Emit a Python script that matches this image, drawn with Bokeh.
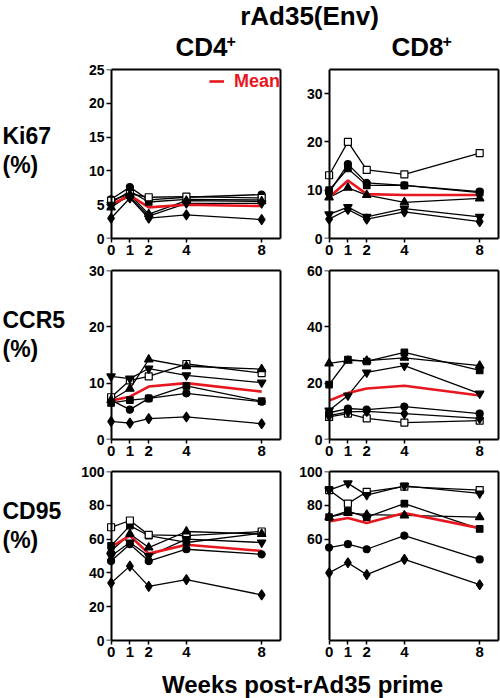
from bokeh.plotting import figure
from bokeh.layouts import row, column
from bokeh.models import Range1d, LinearAxis, FixedTicker, Legend, LegendItem
from bokeh.embed import file_html
from bokeh.resources import INLINE
from bokeh.core.properties import value

# ---------------- data ----------------
weeks = [0, 1, 2, 4, 8]
week_ticks = [0, 1, 2, 4, 8]

ki67_cd4 = {
    "circle": [5.8, 7.6, 5.7, 6.1, 6.5],
    "square": [5.3, 7.0, 5.4, 5.8, 5.7],
    "open_square": [5.6, 6.6, 6.1, 6.2, 6.0],
    "triangle": [4.6, 6.5, 3.6, 5.6, 5.5],
    "inverted_triangle": [5.0, 6.2, 3.3, 5.2, 5.2],
    "diamond": [3.0, 6.0, 3.0, 3.5, 2.8],
}
ki67_cd4_mean = [5.0, 6.4, 4.6, 5.0, 4.8]

ki67_cd8 = {
    "circle": [9.5, 15.4, 11.5, 11.0, 9.7],
    "square": [10.0, 14.5, 11.0, 11.0, 9.5],
    "open_square": [13.1, 20.0, 14.2, 13.3, 17.7],
    "triangle": [8.5, 10.5, 9.0, 7.5, 8.3],
    "inverted_triangle": [5.0, 6.5, 4.5, 6.2, 4.5],
    "diamond": [4.0, 6.0, 4.0, 5.5, 3.5],
}
ki67_cd8_mean = [8.5, 12.0, 9.2, 9.0, 9.0]

ccr5_cd4 = {
    "circle": [7.0, 5.3, 7.3, 8.2, 6.7],
    "square": [6.5, 7.0, 7.3, 9.5, 6.8],
    "open_square": [7.5, 10.5, 11.2, 13.4, 11.8],
    "triangle": [7.0, 9.0, 14.2, 13.0, 12.5],
    "inverted_triangle": [11.2, 10.8, 12.6, 11.4, 10.1],
    "diamond": [3.2, 2.9, 3.7, 4.0, 2.8],
}
ccr5_cd4_mean = [6.9, 7.6, 9.4, 10.0, 8.5]

ccr5_cd8 = {
    "circle": [9.5, 11.0, 10.6, 11.7, 9.2],
    "square": [19.5, 28.4, 27.7, 30.9, 24.5],
    "open_square": [8.0, 9.2, 7.5, 6.0, 6.7],
    "triangle": [27.0, 28.0, 28.0, 29.0, 26.2],
    "inverted_triangle": [10.3, 15.6, 23.8, 26.2, 16.3],
    "diamond": [8.5, 9.8, 10.0, 9.2, 7.5],
}
ccr5_cd8_mean = [13.8, 16.5, 18.1, 19.1, 15.6]

cd95_cd4 = {
    "circle": [47, 57, 47, 54, 51],
    "square": [56, 68, 62, 58, 63.5],
    "open_square": [67, 71, 62.5, 62, 64.5],
    "triangle": [53, 63, 55, 64.5, 63],
    "inverted_triangle": [50, 58, 50, 60, 58],
    "diamond": [34, 44, 32, 36, 27],
}
cd95_cd4_mean = [55.4, 62, 51.4, 56.7, 53]

cd95_cd8 = {
    "circle": [55, 57, 54, 62, 48],
    "square": [73, 76.5, 73, 81, 66],
    "open_square": [89, 81, 88, 91, 89],
    "triangle": [73, 75.5, 74.5, 74, 73],
    "inverted_triangle": [89, 93, 86, 91.5, 87],
    "diamond": [40, 46, 39, 48, 33],
}
cd95_cd8_mean = [70.5, 72.5, 69.5, 75.5, 66.5]

row_names = ["Ki67", "CCR5", "CD95"]
column_names = ["CD4", "CD8"]
main_title = "rAd35(Env)"
x_title = "Weeks post-rAd35 prime"
mean_label = "Mean"

# ---------------- style ----------------
FONT = "Liberation Sans"
BLACK = "#000000"
RED = "#e8161e"
FRAME_W, FRAME_H = 176, 169
BORDER_TOP, BORDER_BOTTOM = 9, 23
XR = (-0.35, 9.0)

MARKER_STYLE = {
    "circle": dict(marker="circle", size=7, fill_color=BLACK),
    "square": dict(marker="square", size=6.5, fill_color=BLACK),
    "open_square": dict(marker="square", size=7, fill_color="white"),
    "triangle": dict(marker="triangle", size=8.5, fill_color=BLACK),
    "inverted_triangle": dict(marker="inverted_triangle", size=8.5, fill_color=BLACK),
    "diamond": dict(marker="diamond", size=10, fill_color=BLACK),
}


def bare_axis(ax):
    ax.ticker = FixedTicker(ticks=[])
    ax.axis_line_width = 2
    ax.axis_line_color = BLACK
    ax.major_tick_out = 0
    ax.major_tick_in = 0
    ax.minor_tick_out = 0
    ax.minor_tick_in = 0
    ax.major_label_standoff = 0
    ax.major_label_text_alpha = 0


def panel(data, mean, ymax, yticks, border_left, border_right, legend=False):
    p = figure(frame_width=FRAME_W, frame_height=FRAME_H,
               x_range=Range1d(*XR), y_range=Range1d(0, ymax),
               min_border_left=border_left, min_border_right=border_right,
               min_border_top=BORDER_TOP, min_border_bottom=BORDER_BOTTOM,
               toolbar_location=None, output_backend="svg")
    p.grid.visible = False
    p.outline_line_color = None
    p.background_fill_color = "white"

    # x axis
    xa = p.xaxis[0]
    xa.ticker = FixedTicker(ticks=week_ticks)
    xa.bounds = (0, XR[1])
    xa.axis_line_width = 2
    xa.axis_line_color = BLACK
    xa.major_tick_line_width = 1.5
    xa.major_tick_line_color = BLACK
    xa.major_tick_out = 4
    xa.major_tick_in = 0
    xa.minor_tick_line_color = None
    xa.major_label_text_font = FONT
    xa.major_label_text_font_style = "bold"
    xa.major_label_text_font_size = "15px"
    xa.major_label_text_color = BLACK
    xa.major_label_standoff = 2

    # y tick labels (at frame edge)
    ya = p.yaxis[0]
    ya.ticker = FixedTicker(ticks=yticks)
    ya.axis_line_color = None
    ya.major_tick_line_color = None
    ya.minor_tick_line_color = None
    ya.major_tick_out = 0
    ya.major_tick_in = 0
    ya.major_label_standoff = 0
    ya.major_label_text_font = FONT
    ya.major_label_text_font_style = "bold"
    ya.major_label_text_font_size = "14px"
    ya.major_label_text_color = BLACK

    # y axis line and ticks at week 0
    yl = LinearAxis(ticker=FixedTicker(ticks=yticks), fixed_location=0)
    yl.axis_line_width = 2
    yl.axis_line_color = BLACK
    yl.major_tick_line_width = 1.5
    yl.major_tick_line_color = BLACK
    yl.major_tick_out = 5
    yl.major_tick_in = 0
    yl.minor_tick_line_color = None
    yl.major_label_standoff = 0
    yl.major_label_text_font_size = "1px"
    yl.major_label_text_alpha = 0
    p.add_layout(yl, "left")

    top = LinearAxis(bounds=(0, XR[1]))
    bare_axis(top)
    p.add_layout(top, "above")
    right = LinearAxis()
    bare_axis(right)
    p.add_layout(right, "right")

    for key, ys in data.items():
        p.line(weeks, ys, line_color=BLACK, line_width=1.3)
    mean_r = p.line(weeks, mean, line_color=RED, line_width=2.6)
    for key, ys in data.items():
        st = MARKER_STYLE[key]
        p.scatter(weeks, ys, marker=st["marker"], size=st["size"],
                  fill_color=st["fill_color"], line_color=BLACK, line_width=1.2)

    if legend:
        lg = Legend(items=[LegendItem(label=mean_label, renderers=[mean_r])],
                    location="top_right", border_line_color=None,
                    background_fill_alpha=0, margin=0, padding=4,
                    glyph_width=15, glyph_height=24, label_standoff=10,
                    label_text_font=FONT, label_text_font_style="bold",
                    label_text_font_size="18px", label_text_color=RED)
        p.add_layout(lg)
    return p


def text_canvas(w, h):
    p = figure(width=w, height=h, x_range=Range1d(0, w), y_range=Range1d(0, h),
               x_axis_type=None, y_axis_type=None, min_border=0,
               toolbar_location=None, output_backend="svg")
    p.grid.visible = False
    p.outline_line_color = None
    return p


ROW_H = BORDER_TOP + FRAME_H + BORDER_BOTTOM
HEADER_H = 69 - BORDER_TOP
FOOTER_H = 698 - HEADER_H - 3 * ROW_H

# header
header = text_canvas(500, HEADER_H)
header.text(x=[309], y=[HEADER_H - 15], text=[main_title], text_font=value(FONT),
            text_font_style="bold", text_font_size="26px",
            text_align="center", text_baseline="middle", text_color=BLACK)
header.text(x=[175, 391], y=[14, 14], text=column_names, text_font=value(FONT),
            text_font_style="bold", text_font_size="26px",
            text_align="left", text_baseline="middle", text_color=BLACK)
header.text(x=[226, 442], y=[20, 20], text=["+", "+"], text_font=value(FONT),
            text_font_style="bold", text_font_size="16px",
            text_align="left", text_baseline="middle", text_color=BLACK)

# offsets (below each frame top) of the row label and of "(%)"
label_offsets = [(70, 104), (50, 84), (38, 72)]


def label_canvas(name, offsets):
    p = text_canvas(66, ROW_H)
    frame_top = ROW_H - BORDER_TOP
    p.text(x=[2], y=[frame_top - offsets[0]], text=[name], text_font=value(FONT),
           text_font_style="bold", text_font_size="23px",
           text_align="left", text_baseline="middle", text_color=BLACK)
    p.text(x=[2], y=[frame_top - offsets[1]], text=["(%)"], text_font=value(FONT),
           text_font_style="bold", text_font_size="23px",
           text_align="left", text_baseline="middle", text_color=BLACK)
    return p


r1 = row(label_canvas(row_names[0], label_offsets[0]),
         panel(ki67_cd4, ki67_cd4_mean, 25, [0, 5, 10, 15, 20, 25], 38, 2, legend=True),
         panel(ki67_cd8, ki67_cd8_mean, 35, [0, 10, 20, 30], 40, 2), spacing=0)
r2 = row(label_canvas(row_names[1], label_offsets[1]),
         panel(ccr5_cd4, ccr5_cd4_mean, 30, [0, 10, 20, 30], 38, 2),
         panel(ccr5_cd8, ccr5_cd8_mean, 60, [0, 20, 40, 60], 40, 2), spacing=0)
r3 = row(label_canvas(row_names[2], label_offsets[2]),
         panel(cd95_cd4, cd95_cd4_mean, 100, [0, 20, 40, 60, 80, 100], 38, 2),
         panel(cd95_cd8, cd95_cd8_mean, 100, [60, 80, 100], 40, 2), spacing=0)

footer = text_canvas(500, FOOTER_H)
footer.text(x=[302], y=[FOOTER_H - 21], text=[x_title], text_font=value(FONT),
            text_font_style="bold", text_font_size="24px",
            text_align="center", text_baseline="middle", text_color=BLACK)

layout = column(header, r1, r2, r3, footer, spacing=0)

open("out.html", "w").write(file_html(layout, INLINE))
